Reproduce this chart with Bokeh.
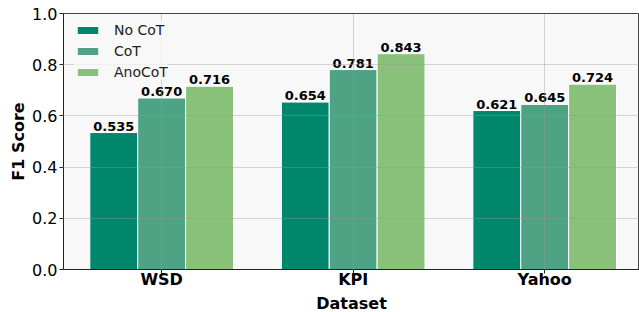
from bokeh.plotting import figure
from bokeh.models import ColumnDataSource, FixedTicker, Legend, LegendItem, Range1d, Title
from bokeh.core.properties import value
from bokeh.embed import file_html
from bokeh.resources import INLINE

datasets = ["WSD", "KPI", "Yahoo"]
series_names = ["No CoT", "CoT", "AnoCoT"]
no_cot = [0.535, 0.654, 0.621]
cot = [0.670, 0.781, 0.645]
anocot = [0.716, 0.843, 0.724]
colors = ["#00876c", "#4ea384", "#89c17a"]
offsets = [-0.25, 0.0, 0.25]
bar_width = 0.25

FONT = "DejaVu Sans"

p = figure(width=639, height=312, output_backend="svg", toolbar_location=None,
           x_range=Range1d(-0.5125, 2.495), y_range=Range1d(0, 1.0),
           min_border_left=63, min_border_right=0, min_border_top=13, min_border_bottom=0)

p.background_fill_color = "#f8f8f8"
p.border_fill_color = "white"
p.outline_line_color = "#444444"
p.outline_line_width = 1

items = []
for name, vals, col, off in zip(series_names, [no_cot, cot, anocot], colors, offsets):
    src = ColumnDataSource(dict(
        x=[i + off for i in range(len(datasets))],
        top=vals,
        label=[f"{v:.3f}" for v in vals],
    ))
    r = p.vbar(x="x", top="top", width=bar_width, bottom=0, source=src,
               fill_color=col, line_color="white", line_width=1)
    p.text(x="x", y="top", text="label", source=src, text_align="center",
           text_baseline="bottom", y_offset=-2, text_font=value(FONT),
           text_font_style="bold", text_font_size="13px", text_color="black")
    items.append(LegendItem(label=name, renderers=[r]))

legend = Legend(items=items, location=(11, 189), orientation="vertical")
legend.label_text_font = FONT
legend.label_text_font_size = "14px"
legend.label_text_color = "#222222"
legend.glyph_width = 27
legend.glyph_height = 10
legend.label_height = 17
legend.spacing = 4
legend.padding = 4
legend.label_standoff = 13
legend.background_fill_color = "#f8f8f8"
legend.background_fill_alpha = 0.8
legend.border_line_color = None
p.add_layout(legend)

# grid drawn over the bars, dotted
for g in (p.xgrid, p.ygrid):
    g.grid_line_color = "#999999"
    g.grid_line_dash = "1 1"
    g.grid_line_width = 1
    g.grid_line_alpha = 0.8
    g.level = "guide"

p.xaxis.ticker = FixedTicker(ticks=[0, 1, 2])
p.xaxis.major_label_overrides = {i: d for i, d in enumerate(datasets)}
p.yaxis.ticker = FixedTicker(ticks=[0, 0.2, 0.4, 0.6, 0.8, 1.0])
p.yaxis.major_label_overrides = {0: "0.0", 0.2: "0.2", 0.4: "0.4", 0.6: "0.6", 0.8: "0.8", 1.0: "1.0"}

for ax in (p.xaxis[0], p.yaxis[0]):
    ax.axis_line_color = "#222222"
    ax.axis_line_width = 1
    ax.major_tick_line_color = "#222222"
    ax.major_tick_out = 4
    ax.major_tick_in = 0
    ax.minor_tick_line_color = None
    ax.major_label_text_font = FONT
    ax.major_label_text_color = "black"
    ax.axis_label_text_font = FONT
    ax.axis_label_text_font_style = "bold"
    ax.axis_label_text_color = "black"

p.xaxis.major_label_standoff = -4
p.yaxis.major_label_standoff = 2
p.xaxis.major_label_text_font_size = "16px"
p.xaxis.major_label_text_font_style = "bold"
p.yaxis.major_label_text_font_size = "16px"
p.yaxis.major_label_text_font_style = "normal"
p.yaxis.axis_label = "F1 Score"
p.yaxis.axis_label_text_font_size = "16px"
p.yaxis.axis_label_standoff = 1

# x-axis title, centred below the tick labels
xtitle = Title(text="Dataset", align="center", text_font=FONT, text_font_style="bold",
               text_font_size="16px", text_color="black", standoff=0, offset=0)
p.add_layout(xtitle, "below")

open("out.html", "w").write(file_html(p, INLINE))
